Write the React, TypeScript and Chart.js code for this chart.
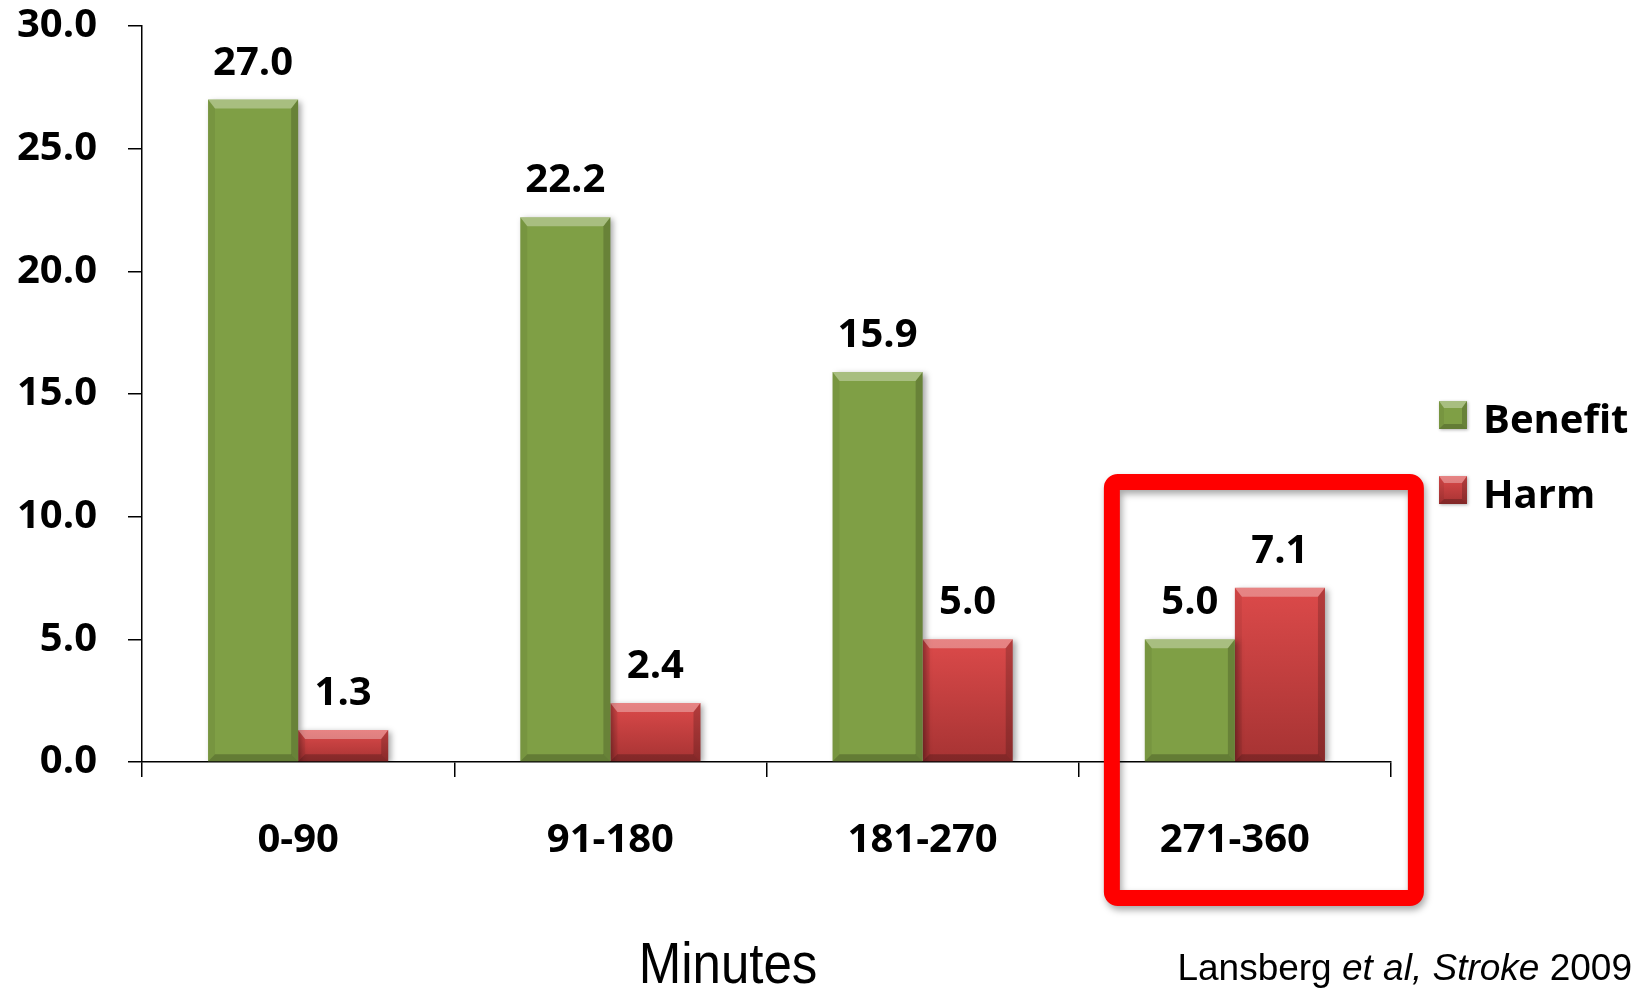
import React, { useEffect, useRef } from "react";
import { Chart, registerables } from "chart.js";

Chart.register(...registerables);

// Time window after stroke onset (minutes)
const categories = ["0-90", "91-180", "181-270", "271-360"];
const seriesNames = ["Benefit", "Harm"];
const benefitValues = [27.0, 22.2, 15.9, 5.0];
const harmValues = [1.3, 2.4, 5.0, 7.1];
const yTickValues = [0, 5, 10, 15, 20, 25, 30];
const axisTitle = "Minutes";
const citation = [
  { text: "Lansberg ", italic: false },
  { text: "et al,", italic: true },
  { text: " ", italic: false },
  { text: "Stroke", italic: true },
  { text: " 2009", italic: false },
];
const highlightedCategory = 3;

const BOLD_FONT = "'Open Sans', Lato, sans-serif";
const BOLD_WEIGHT = 700;
const GREEN = "#7F9F45";
const RED_TOP = "#DC4A4A";
const RED_BOTTOM = "#A63333";

function redGradient(ctx: CanvasRenderingContext2D, top: number, bottom: number) {
  const g = ctx.createLinearGradient(0, top, 0, bottom);
  g.addColorStop(0, RED_TOP);
  g.addColorStop(1, RED_BOTTOM);
  return g;
}

// Bevel highlight/shade on a rectangle to give the raised-bar look
function drawBevel(ctx: CanvasRenderingContext2D, l: number, t: number, r: number, b: number, d: number) {
  ctx.save();
  ctx.fillStyle = "rgba(255,255,255,0.32)";
  ctx.beginPath();
  ctx.moveTo(l, t);
  ctx.lineTo(r, t);
  ctx.lineTo(r - d, t + d + 2);
  ctx.lineTo(l + d, t + d + 2);
  ctx.closePath();
  ctx.fill();
  ctx.fillStyle = "rgba(0,0,0,0.06)";
  ctx.beginPath();
  ctx.moveTo(l, t);
  ctx.lineTo(l + d, t + d + 2);
  ctx.lineTo(l + d, b - d);
  ctx.lineTo(l, b);
  ctx.closePath();
  ctx.fill();
  ctx.fillStyle = "rgba(0,0,0,0.18)";
  ctx.beginPath();
  ctx.moveTo(r, t);
  ctx.lineTo(r - d, t + d + 2);
  ctx.lineTo(r - d, b - d);
  ctx.lineTo(r, b);
  ctx.closePath();
  ctx.fill();
  ctx.fillStyle = "rgba(0,0,0,0.22)";
  ctx.beginPath();
  ctx.moveTo(l, b);
  ctx.lineTo(l + d, b - d);
  ctx.lineTo(r - d, b - d);
  ctx.lineTo(r, b);
  ctx.closePath();
  ctx.fill();
  ctx.restore();
}

const decorations = {
  id: "decorations",
  beforeDatasetsDraw(chart: any) {
    const ctx = chart.ctx;
    ctx.save();
    ctx.shadowColor = "rgba(0,0,0,0.35)";
    ctx.shadowBlur = 6;
    ctx.shadowOffsetX = 3;
    ctx.shadowOffsetY = 2;
  },
  afterDatasetsDraw(chart: any) {
    const ctx: CanvasRenderingContext2D = chart.ctx;
    ctx.restore();
    const area = chart.chartArea;
    const xs = chart.scales.x;

    // bevels + value labels
    chart.data.datasets.forEach((ds: any, di: number) => {
      const meta = chart.getDatasetMeta(di);
      meta.data.forEach((el: any, i: number) => {
        const p = el.getProps(["x", "y", "base", "width"], true);
        const l = p.x - p.width / 2;
        const r = p.x + p.width / 2;
        drawBevel(ctx, l, p.y, r, p.base, 7);
        ctx.save();
        ctx.fillStyle = "#000";
        ctx.font = `${BOLD_WEIGHT} 40px ${BOLD_FONT}`;
        ctx.textAlign = "center";
        ctx.textBaseline = "alphabetic";
        ctx.fillText(Number(ds.data[i]).toFixed(1), p.x, p.y - 25);
        ctx.restore();
      });
    });

    // legend
    chart.data.datasets.forEach((ds: any, di: number) => {
      const sx = area.right + 48;
      const sy = area.top + 375 + di * 75;
      const size = 28;
      ctx.save();
      ctx.shadowColor = "rgba(0,0,0,0.3)";
      ctx.shadowBlur = 3;
      ctx.shadowOffsetX = 1;
      ctx.shadowOffsetY = 1;
      ctx.fillStyle = di === 0 ? GREEN : redGradient(ctx, sy, sy + size);
      ctx.fillRect(sx, sy, size, size);
      ctx.restore();
      drawBevel(ctx, sx, sy, sx + size, sy + size, 5);
      ctx.save();
      ctx.fillStyle = "#000";
      ctx.font = `${BOLD_WEIGHT} 40px ${BOLD_FONT}`;
      ctx.textAlign = "left";
      ctx.textBaseline = "alphabetic";
      ctx.fillText(ds.label, sx + 44, sy + 32);
      ctx.restore();
    });

    // highlight frame around the last time window
    const cx = xs.getPixelForValue(highlightedCategory);
    ctx.save();
    ctx.shadowColor = "rgba(0,0,0,0.35)";
    ctx.shadowBlur = 7;
    ctx.shadowOffsetX = 2;
    ctx.shadowOffsetY = 4;
    ctx.strokeStyle = "#FF0000";
    ctx.lineWidth = 16;
    ctx.lineJoin = "round";
    ctx.beginPath();
    (ctx as any).roundRect(cx - 123, area.top + 456, 304, area.bottom + 136 - (area.top + 456), 6);
    ctx.stroke();
    ctx.restore();

    // axis title (condensed sans)
    ctx.save();
    ctx.fillStyle = "#000";
    ctx.font = "58px 'Liberation Sans', Arial, sans-serif";
    ctx.textAlign = "center";
    ctx.textBaseline = "alphabetic";
    ctx.translate(area.left + 586, area.bottom + 221);
    ctx.scale(0.88, 1);
    ctx.fillText(axisTitle, 0, 0);
    ctx.restore();

    // source note, right aligned
    ctx.save();
    ctx.fillStyle = "#000";
    ctx.textBaseline = "alphabetic";
    ctx.textAlign = "left";
    const fontFor = (it: boolean) => `${it ? "italic " : ""}37px 'Liberation Sans', Arial, sans-serif`;
    let total = 0;
    citation.forEach((c) => {
      ctx.font = fontFor(c.italic);
      total += ctx.measureText(c.text).width;
    });
    let x = chart.width - 5 - total;
    const y = area.bottom + 218;
    citation.forEach((c) => {
      ctx.font = fontFor(c.italic);
      ctx.fillText(c.text, x, y);
      x += ctx.measureText(c.text).width;
    });
    ctx.restore();
  },
};

export default function App() {
  const canvasRef = useRef<HTMLCanvasElement | null>(null);

  useEffect(() => {
    const canvas = canvasRef.current;
    if (!canvas) return;
    const chart = new Chart(canvas, {
      type: "bar",
      data: {
        labels: categories,
        datasets: [
          {
            label: seriesNames[0],
            data: benefitValues,
            backgroundColor: GREEN,
            borderWidth: 0,
          },
          {
            label: seriesNames[1],
            data: harmValues,
            backgroundColor: (c: any) => {
              const ch = c.chart;
              if (!ch.chartArea || c.type !== "data" || !ch.scales.y) return "#C44040";
              const ys = ch.scales.y;
              return redGradient(ch.ctx, ys.getPixelForValue(c.raw), ys.getPixelForValue(0));
            },
            borderWidth: 0,
          },
        ],
      },
      options: {
        animation: false,
        responsive: false,
        maintainAspectRatio: false,
        layout: { padding: { top: 26, right: 246, left: 0, bottom: 0 } },
        datasets: { bar: { categoryPercentage: 0.577, barPercentage: 1 } } as any,
        plugins: {
          legend: { display: false },
          tooltip: { enabled: false },
        },
        scales: {
          x: {
            grid: {
              offset: true,
              display: true,
              drawOnChartArea: false,
              drawTicks: true,
              tickLength: 15,
              color: "#000",
              lineWidth: 1.5,
            },
            border: { display: true, color: "#000", width: 1.5 },
            ticks: {
              color: "#000",
              font: { family: BOLD_FONT, weight: BOLD_WEIGHT, size: 40 },
              padding: 40,
            },
            afterFit: (s: any) => {
              s.height = 228;
            },
          },
          y: {
            min: 0,
            max: 30,
            afterBuildTicks: (s: any) => {
              s.ticks = yTickValues.map((v) => ({ value: v }));
            },
            grid: {
              display: true,
              drawOnChartArea: false,
              drawTicks: true,
              tickLength: 14,
              color: "#000",
              lineWidth: 1.5,
            },
            border: { display: true, color: "#000", width: 1.5 },
            ticks: {
              color: "#000",
              font: { family: BOLD_FONT, weight: BOLD_WEIGHT, size: 40 },
              padding: 31,
              callback: (v: any) => Number(v).toFixed(1),
            },
            afterFit: (s: any) => {
              s.width = 142;
              s.paddingTop = 0;
              s.paddingBottom = 0;
            },
          },
        } as any,
      },
      plugins: [decorations],
    });
    return () => chart.destroy();
  }, []);

  return (
    <div style={{ position: "absolute", left: 0, top: 0, width: 1637, height: 990, background: "#fff" }}>
      <canvas ref={canvasRef} width={1637} height={990} style={{ display: "block" }} />
    </div>
  );
}
